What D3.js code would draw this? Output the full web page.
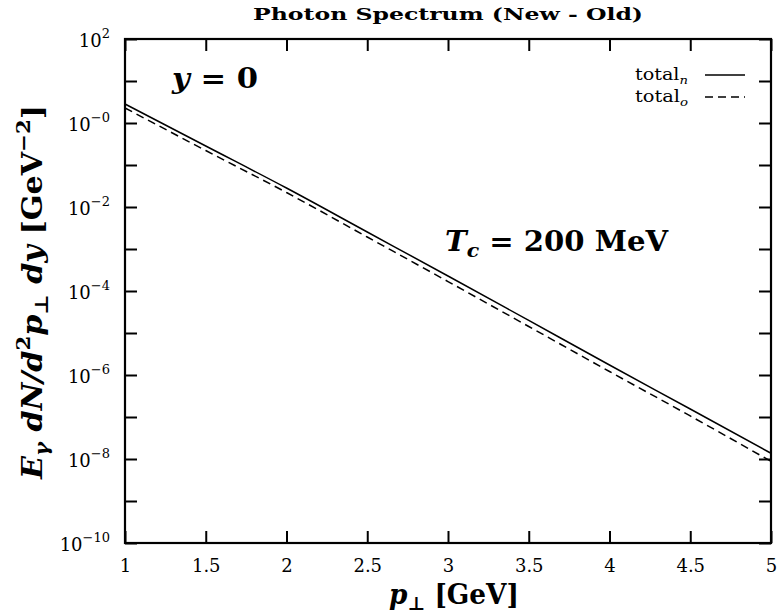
<!DOCTYPE html>
<html>
<head>
<meta charset="utf-8">
<script src="https://cdn.jsdelivr.net/npm/d3@7"></script>
<style>
body{margin:0;background:#fff;}
svg text{font-family:"DejaVu Serif","Liberation Serif",serif !important;fill:#000;}
.axis path,.axis line{stroke:#000;}
</style>
</head>
<body>
<div id="chart"></div>
<script>
// p_perp values (GeV)
let pt=[1,1.5,2,2.5,3,3.5,4,4.5,5];
// total_n (new) and total_o (old)
let totalNew=[2.83,0.283,0.0283,2.54e-3,2.28e-4,1.99e-5,1.73e-6,1.55e-7,1.37e-8];
let totalOld=[2.28,0.221,0.0221,1.93e-3,1.68e-4,1.43e-5,1.21e-6,1.06e-7,8.8e-9];
let xTicks=[1,1.5,2,2.5,3,3.5,4,4.5,5];
let yTicks=[1e2,1e1,1e0,1e-1,1e-2,1e-3,1e-4,1e-5,1e-6,1e-7,1e-8,1e-9,1e-10];
let yLabelExp={"2":"2","0":"\u22120","-2":"\u22122","-4":"\u22124","-6":"\u22126","-8":"\u22128","-10":"\u221210"};

let W=778,H=616;
let margin={left:125,right:7,top:39,bottom:73};
let width=W-margin.left-margin.right;
let height=H-margin.top-margin.bottom;

let svg=d3.select("#chart").append("svg")
    .attr("width",W)
    .attr("height",H);

let graph=svg.append("g")
    .attr("transform","translate("+margin.left+","+margin.top+")");

let x=d3.scaleLinear().domain([1,5]).range([0,width]);
let y=d3.scaleLog().domain([1e-10,1e2]).range([height,0]);

//frame
graph.append("rect")
    .attr("width",width).attr("height",height)
    .attr("fill","none").attr("stroke","#000").attr("stroke-width",2.2);

//bottom axis with labels
graph.append("g")
    .attr("class","axis")
    .attr("transform","translate(0,"+height+")")
    .call(d3.axisBottom(x).tickValues(xTicks).tickSizeInner(-12).tickSizeOuter(0).tickPadding(16)
        .tickFormat(d=>d3.format("")(d)))
    .call(g=>g.select(".domain").remove())
    .call(g=>g.selectAll("line").attr("stroke-width",2))
    .call(g=>g.selectAll("text").attr("font-size",18).style("font-size","18px"));

//top mirror ticks
graph.append("g")
    .attr("class","axis")
    .call(d3.axisTop(x).tickValues(xTicks).tickSizeInner(-12).tickSizeOuter(0).tickFormat(""))
    .call(g=>g.select(".domain").remove())
    .call(g=>g.selectAll("line").attr("stroke-width",2));

//left axis
let yAxis=graph.append("g")
    .attr("class","axis")
    .call(d3.axisLeft(y).tickValues(yTicks).tickSizeInner(-12).tickSizeOuter(0).tickFormat(""))
    .call(g=>g.select(".domain").remove())
    .call(g=>g.selectAll("line").attr("stroke-width",2));

yAxis.selectAll(".tick").each(function(d){
    let e=Math.round(Math.log10(d));
    if(yLabelExp[e]===undefined) return;
    let t=d3.select(this).append("text")
        .attr("x",-15).attr("y",7)
        .attr("text-anchor","end")
        .style("font-size","18px");
    t.append("tspan").text("10");
    t.append("tspan").attr("dy",-9).style("font-size","13px").text(yLabelExp[e]);
});

//right mirror ticks
graph.append("g")
    .attr("class","axis")
    .attr("transform","translate("+width+",0)")
    .call(d3.axisRight(y).tickValues(yTicks).tickSizeInner(-12).tickSizeOuter(0).tickFormat(""))
    .call(g=>g.select(".domain").remove())
    .call(g=>g.selectAll("line").attr("stroke-width",2));

//curves
let line=d3.line()
    .x((d,i)=>x(pt[i]))
    .y(d=>y(d))
    .curve(d3.curveMonotoneX);

graph.append("path")
    .datum(totalNew)
    .attr("d",line)
    .attr("fill","none").attr("stroke","#000").attr("stroke-width",1.5);

graph.append("path")
    .datum(totalOld)
    .attr("d",line)
    .attr("fill","none").attr("stroke","#000").attr("stroke-width",1.5)
    .attr("stroke-dasharray","8,5");

//legend
let legend=[{name:"total",sub:"n",dash:null,ly:36},{name:"total",sub:"o",dash:"8,5",ly:58}];
legend.forEach(l=>{
    let t=graph.append("text")
        .attr("x",563).attr("y",l.ly+5)
        .attr("text-anchor","end")
        .attr("textLength",53).attr("lengthAdjust","spacingAndGlyphs")
        .style("font-size","16px");
    t.append("tspan").text(l.name);
    t.append("tspan").attr("dy",4).style("font-size","11px").style("font-style","italic").text(l.sub);
    graph.append("line")
        .attr("x1",580).attr("x2",620)
        .attr("y1",l.ly).attr("y2",l.ly)
        .attr("stroke","#000").attr("stroke-width",1.5)
        .attr("stroke-dasharray",l.dash);
});

//annotations
let yz=graph.append("text")
    .attr("x",47).attr("y",49)
    .attr("textLength",86).attr("lengthAdjust","spacingAndGlyphs")
    .style("font-size","27px").style("font-weight","bold");
yz.append("tspan").style("font-style","italic").text("y");
yz.append("tspan").text(" = 0");

let tc=graph.append("text")
    .attr("x",320).attr("y",212)
    .attr("textLength",223).attr("lengthAdjust","spacingAndGlyphs")
    .style("font-size","27px").style("font-weight","bold");
tc.append("tspan").style("font-style","italic").text("T");
tc.append("tspan").attr("dy",6).style("font-size","19px").style("font-style","italic").text("c");
tc.append("tspan").attr("dy",-6).text(" = 200 MeV");

//title
svg.append("text")
    .attr("x",margin.left+width/2).attr("y",20)
    .attr("text-anchor","middle")
    .attr("textLength",390).attr("lengthAdjust","spacingAndGlyphs")
    .style("font-size","16px").style("font-weight","bold")
    .text("Photon Spectrum (New - Old)");

//x label
let xl=svg.append("text")
    .attr("x",margin.left+width/2+6).attr("y",604)
    .attr("text-anchor","middle")
    .attr("textLength",130).attr("lengthAdjust","spacingAndGlyphs")
    .style("font-size","27px").style("font-weight","bold");
xl.append("tspan").style("font-style","italic").text("p");
xl.append("tspan").attr("dy",6).style("font-size","19px").text("\u22a5");
xl.append("tspan").attr("dy",-6).text(" [GeV]");

//y label
let yl=svg.append("text")
    .attr("transform","translate(42,"+(margin.top+height/2+1)+") rotate(-90)")
    .attr("text-anchor","middle")
    .attr("textLength",374).attr("lengthAdjust","spacingAndGlyphs")
    .style("font-size","27px").style("font-weight","bold");
yl.append("tspan").style("font-style","italic").text("E");
yl.append("tspan").attr("dy",6).style("font-size","19px").style("font-style","italic").text("\u03b3");
yl.append("tspan").attr("dy",-6).style("font-style","italic").text(" dN/d");
yl.append("tspan").attr("dy",-12).style("font-size","19px").text("2");
yl.append("tspan").attr("dy",12).style("font-style","italic").text("p");
yl.append("tspan").attr("dy",6).style("font-size","19px").text("\u22a5");
yl.append("tspan").attr("dy",-6).style("font-style","italic").text(" dy");
yl.append("tspan").text(" [GeV");
yl.append("tspan").attr("dy",-12).style("font-size","19px").text("\u22122");
yl.append("tspan").attr("dy",12).text("]");
</script>
</body>
</html>
